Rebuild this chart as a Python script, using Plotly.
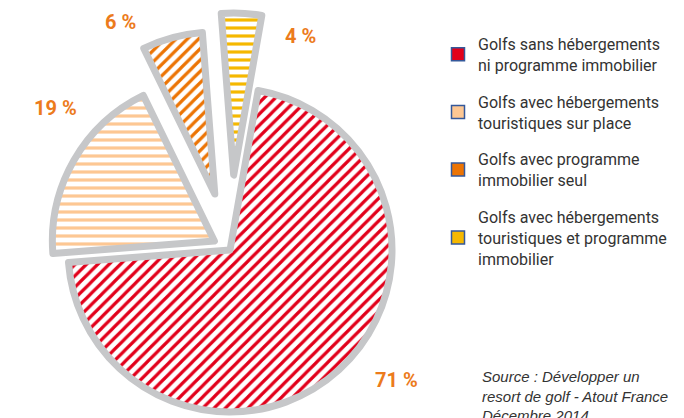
import math
import plotly.graph_objects as go

# ---- data ----
labels = [
    "Golfs sans hébergements<br>ni programme immobilier",
    "Golfs avec hébergements<br>touristiques sur place",
    "Golfs avec programme<br>immobilier seul",
    "Golfs avec hébergements<br>touristiques et programme<br>immobilier",
]
values = [71, 19, 6, 4]
pct_text = ["71 %", "19 %", "6 %", "4 %"]
colors = ["#e2001a", "#fdc793", "#ec7404", "#f5b800"]
patterns = ["/", "-", "/", "-"]

# ---- layout / style ----
W, H = 684, 418
R = 162                     # pie radius in px
CX, CY = 230, 250           # pie centre in px
ROT = 10                    # start angle (clockwise from 12 o'clock)
pull_px = [0, 18, 58, 75]   # "exploded" offset of each slice in px
label_pos = [(397, 380), (55, 108), (120, 22), (300, 36)]
gray = "#c6c7c9"
lab_color = "#ec7b1c"

fig = go.Figure()
total = sum(values)
start = ROT
for i, v in enumerate(values):
    span = 360 * v / total
    mid = math.radians(start + span / 2)
    start += span
    dx = pull_px[i] * math.sin(mid)
    dy = -pull_px[i] * math.cos(mid)
    cx, cy = CX + dx, CY + dy
    dom_x = [(cx - R) / W, (cx + R) / W]
    dom_y = [1 - (cy + R) / H, 1 - (cy - R) / H]
    show = [j == i for j in range(len(values))]
    fig.add_trace(go.Pie(
        values=values,
        labels=[l.replace("<br>", " ") for l in labels],
        sort=False,
        direction="clockwise",
        rotation=ROT,
        domain=dict(x=dom_x, y=dom_y),
        textinfo="none",
        hoverinfo="skip",
        showlegend=False,
        marker=dict(
            colors=["white" if s else "rgba(0,0,0,0)" for s in show],
            line=dict(color=[gray if s else "rgba(0,0,0,0)" for s in show],
                      width=[7 if s else 0 for s in show]),
            pattern=dict(
                shape=[patterns[j] if show[j] else "" for j in range(len(values))],
                fgcolor=[colors[j] for j in range(len(values))],
                bgcolor=["white" if s else "rgba(0,0,0,0)" for s in show],
                fgopacity=1,
                size=8,
                solidity=0.4,
                fillmode="overlay",
            ),
        ),
    ))

# legend entries
for i, lab in enumerate(labels):
    fig.add_trace(go.Scatter(
        x=[None], y=[None], mode="markers", name=lab,
        legendgroup=str(i),
        marker=dict(symbol="square", size=13, color=colors[i],
                    line=dict(color="#34589a", width=1.5)),
    ))

for i, t in enumerate(pct_text):
    x, y = label_pos[i]
    fig.add_annotation(x=x / W, y=1 - y / H, xref="paper", yref="paper",
                       xanchor="center", yanchor="middle",
                       text=f"<b>{t}</b>", showarrow=False,
                       font=dict(family="Roboto", size=20, color=lab_color))

fig.add_annotation(x=480 / W, y=1 - 366 / H, xref="paper", yref="paper",
                   xanchor="left", yanchor="top", align="left",
                   text="<i>Source : Développer un<br>resort de golf - Atout France<br>Décembre 2014</i>",
                   showarrow=False,
                   font=dict(family="Liberation Sans", size=15, color="#333333"))

fig.update_layout(
    width=W, height=H,
    margin=dict(l=0, r=0, t=0, b=0),
    paper_bgcolor="white", plot_bgcolor="white",
    xaxis=dict(visible=False), yaxis=dict(visible=False),
    legend=dict(x=438 / W, y=1 - 27 / H, xanchor="left", yanchor="top",
                tracegroupgap=13, valign="middle",
                font=dict(family="Roboto", size=16, color="#333333"),
                bgcolor="rgba(0,0,0,0)"),
    showlegend=True,
)

fig.write_html("out.html")
